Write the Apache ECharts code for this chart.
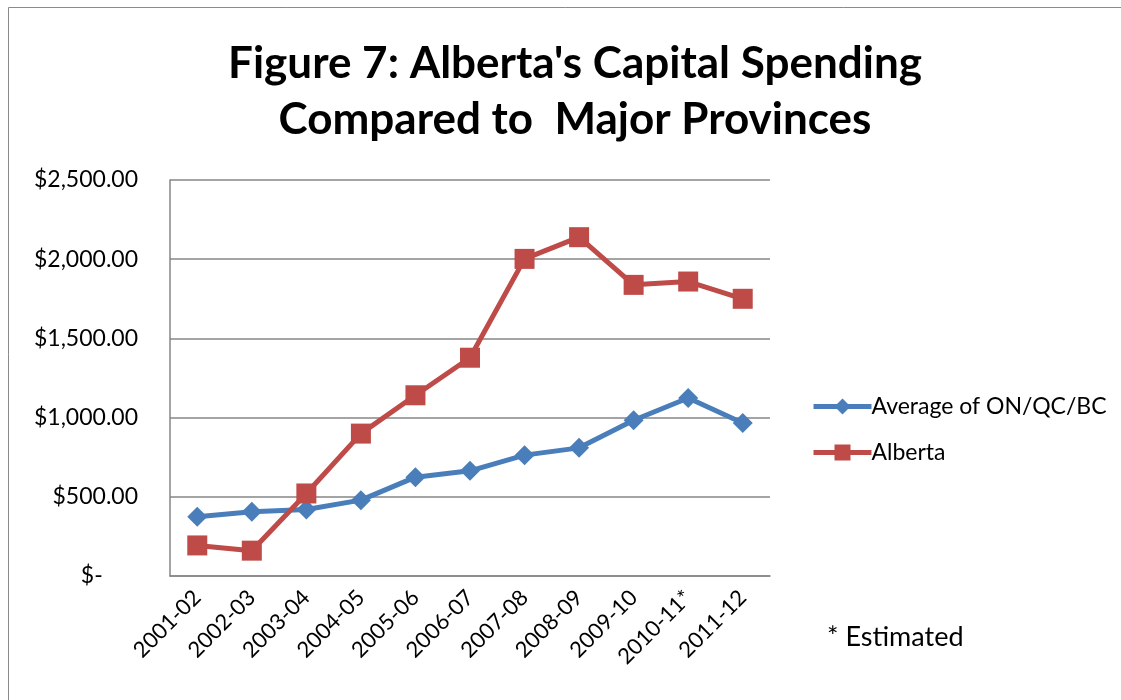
<!DOCTYPE html>
<html><head><meta charset="utf-8">
<script src="https://cdn.jsdelivr.net/npm/echarts@6/dist/echarts.min.js"></script>
<style>html,body{margin:0;padding:0;background:#fff}#c{width:1121px;height:700px}</style>
</head><body><div id="c"></div>
<script>
const categories = ['2001-02','2002-03','2003-04','2004-05','2005-06','2006-07','2007-08','2008-09','2009-10','2010-11*','2011-12'];
const avgValues = [374, 405, 420, 479, 624, 664, 763, 809, 983, 1124, 966];
const albertaValues = [193, 160, 521, 899, 1141, 1378, 2002, 2139, 1838, 1859, 1750];
const seriesNames = ['Average of ON/QC/BC', 'Alberta'];
const titleLines = ["Figure 7: Alberta's Capital Spending", "Compared to  Major Provinces"];
const noteText = '* Estimated';

const FONT = 'Lato';
const chart = echarts.init(document.getElementById('c'));
chart.setOption({
  backgroundColor: '#fff',
  animation: false,
  title: {
    text: titleLines.join('\n'),
    left: 570, top: 31, textAlign: 'center',
    textStyle: { fontFamily: FONT, fontWeight: 'bold', fontSize: 44, lineHeight: 56, color: '#000' }
  },
  graphic: [
    { type: 'rect', shape: { x: 8.5, y: 7.5, width: 1300, height: 900 }, style: { fill: 'none', stroke: '#8a8a8a', lineWidth: 1 } },
    { type: 'text', left: 827, top: 624, style: { text: noteText, font: '27px ' + FONT, fill: '#000' } }
  ],
  legend: {
    orient: 'vertical', left: 806, top: 390, itemGap: 23,
    itemWidth: 58, itemHeight: 20,
    lineStyle: { width: 5 },
    textStyle: { fontFamily: FONT, fontSize: 23, color: '#000', padding: [0,0,0,-5] },
    data: seriesNames
  },
  grid: { left: 170, right: 351, top: 180, bottom: 124, containLabel: false },
  xAxis: {
    type: 'category', data: categories, boundaryGap: true,
    axisLine: { lineStyle: { color: '#868686', width: 1.5 } },
    axisTick: { show: false },
    axisLabel: { rotate: 45, interval: 0, fontFamily: FONT, fontSize: 22, color: '#000', margin: 18 }
  },
  yAxis: {
    type: 'value', min: 0, max: 2500, interval: 500,
    axisLine: { show: true, lineStyle: { color: '#868686', width: 1.5 } },
    axisTick: { show: false },
    splitLine: { lineStyle: { color: '#868686', width: 1.5 } },
    axisLabel: {
      fontFamily: FONT, fontSize: 23, color: '#000', margin: 32,
      formatter: v => v === 0 ? '$-      ' : '$' + v.toLocaleString('en-US') + '.00'
    }
  },
  series: [
    { name: seriesNames[0], type: 'line', data: avgValues, symbol: 'diamond', symbolSize: 20,
      itemStyle: { color: '#4A7EBB' }, lineStyle: { color: '#4A7EBB', width: 5 } },
    { name: seriesNames[1], type: 'line', data: albertaValues, symbol: 'rect', symbolSize: 20,
      itemStyle: { color: '#BE4B48' }, lineStyle: { color: '#BE4B48', width: 5 } }
  ]
});
</script></body></html>
